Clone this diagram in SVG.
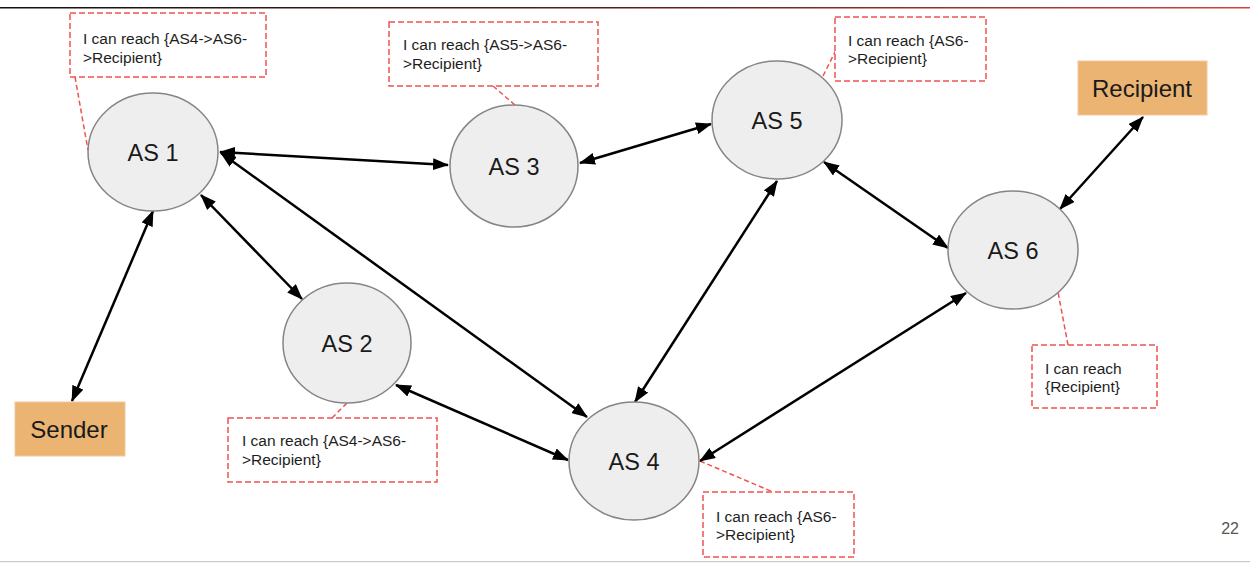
<svg xmlns="http://www.w3.org/2000/svg" width="1254" height="564" viewBox="0 0 1254 564">
  <style>
    .as ellipse { fill: #eeeeee; stroke: #858585; stroke-width: 1.5; }
    .lbl { font-family: "Liberation Sans", Arial, sans-serif; fill: #1a1a1a; text-anchor: middle; }
    .node-text { font-size: 23.5px; }
    .term rect { fill: #ebb473; stroke: #f2c89a; stroke-width: 1; }
    .term text { font-size: 24px; }
    .note rect { fill: #ffffff; stroke: #ef5350; stroke-width: 1.5; stroke-dasharray: 6 3; }
    .note line { stroke: #ef5350; stroke-width: 1.5; stroke-dasharray: 5 3; }
    .note text { font-family: "Liberation Sans", Arial, sans-serif; font-size: 15.5px; fill: #1e1e1e; }
    .link { stroke: #000000; stroke-width: 2.5; fill: none; marker-start: url(#head); marker-end: url(#head); }
  </style>
  <defs>
    <marker id="head" viewBox="0 0 16 12" refX="15" refY="6" markerWidth="16" markerHeight="12" markerUnits="userSpaceOnUse" orient="auto-start-reverse">
      <path d="M0,0 L16,6 L0,12 Z" fill="#000000"/>
    </marker>
    <linearGradient id="rule" x1="0" y1="0" x2="1" y2="0">
      <stop offset="0" stop-color="#111111"/>
      <stop offset="0.5" stop-color="#5a1f1a"/>
      <stop offset="1" stop-color="#d0453a"/>
    </linearGradient>
  </defs>

  <rect x="0" y="0" width="1254" height="564" fill="#ffffff"/>
  <!-- slide rules -->
  <rect x="0" y="7" width="1250" height="1.5" fill="url(#rule)"/>
  <rect x="0" y="561" width="1250" height="1.2" fill="#c8c8c8"/>

  <!-- callouts -->
  <g id="note-as1" class="note">
    <line x1="75" y1="77" x2="88" y2="150"/>
    <rect x="70" y="13" width="196" height="64"/>
    <text x="83" y="44">I can reach {AS4-&gt;AS6-</text>
    <text x="83" y="63">&gt;Recipient}</text>
  </g>
  <g id="note-as3" class="note">
    <line x1="493" y1="86" x2="515" y2="105"/>
    <rect x="389" y="22" width="209" height="64"/>
    <text x="403" y="50">I can reach {AS5-&gt;AS6-</text>
    <text x="403" y="69">&gt;Recipient}</text>
  </g>
  <g id="note-as5" class="note">
    <line x1="836" y1="50" x2="822" y2="78"/>
    <rect x="835" y="17" width="151" height="64"/>
    <text x="848" y="46">I can reach {AS6-</text>
    <text x="848" y="64">&gt;Recipient}</text>
  </g>
  <g id="note-as6" class="note">
    <line x1="1068" y1="345" x2="1058" y2="292"/>
    <rect x="1032" y="345" width="125" height="63"/>
    <text x="1045" y="374">I can reach</text>
    <text x="1045" y="392">{Recipient}</text>
  </g>
  <g id="note-as2" class="note">
    <line x1="332" y1="418" x2="348" y2="402"/>
    <rect x="228" y="418" width="209" height="64"/>
    <text x="242" y="446">I can reach {AS4-&gt;AS6-</text>
    <text x="242" y="465">&gt;Recipient}</text>
  </g>
  <g id="note-as4" class="note">
    <line x1="700" y1="461" x2="773" y2="492"/>
    <rect x="703" y="492" width="151" height="65"/>
    <text x="716" y="522">I can reach {AS6-</text>
    <text x="716" y="540">&gt;Recipient}</text>
  </g>

  <!-- connectors -->
  <g id="connectors">
    <line class="link" x1="220" y1="152" x2="448" y2="165"/>
    <line class="link" x1="221" y1="153" x2="587" y2="417"/>
    <line class="link" x1="201" y1="195" x2="302" y2="299"/>
    <line class="link" x1="153" y1="211" x2="72" y2="401"/>
    <line class="link" x1="580" y1="163" x2="711" y2="124"/>
    <line class="link" x1="396" y1="385" x2="568" y2="460"/>
    <line class="link" x1="635" y1="402" x2="777" y2="181"/>
    <line class="link" x1="824" y1="162" x2="948" y2="248"/>
    <line class="link" x1="700" y1="461" x2="966" y2="293"/>
    <line class="link" x1="1060" y1="209" x2="1143" y2="117"/>
  </g>

  <!-- nodes -->
  <g id="as1" class="as">
    <ellipse cx="153" cy="152" rx="65" ry="59"/>
    <text class="lbl node-text" x="153" y="161">AS 1</text>
  </g>
  <g id="as2" class="as">
    <ellipse cx="347" cy="343" rx="64" ry="60"/>
    <text class="lbl node-text" x="347" y="352">AS 2</text>
  </g>
  <g id="as3" class="as">
    <ellipse cx="514" cy="166" rx="64" ry="61"/>
    <text class="lbl node-text" x="514" y="175">AS 3</text>
  </g>
  <g id="as4" class="as">
    <ellipse cx="634" cy="461" rx="65" ry="59"/>
    <text class="lbl node-text" x="634" y="470">AS 4</text>
  </g>
  <g id="as5" class="as">
    <ellipse cx="777" cy="120" rx="65" ry="59"/>
    <text class="lbl node-text" x="777" y="129">AS 5</text>
  </g>
  <g id="as6" class="as">
    <ellipse cx="1013" cy="250" rx="65" ry="59"/>
    <text class="lbl node-text" x="1013" y="259">AS 6</text>
  </g>
  <g id="sender" class="term">
    <rect x="15" y="402" width="110" height="54"/>
    <text class="lbl" x="69" y="438">Sender</text>
  </g>
  <g id="recipient" class="term">
    <rect x="1078" y="61" width="129" height="54"/>
    <text class="lbl" x="1142" y="97">Recipient</text>
  </g>

  <text x="1239" y="534" font-family="'Liberation Sans', Arial, sans-serif" font-size="16" fill="#555555" text-anchor="end">22</text>
</svg>
